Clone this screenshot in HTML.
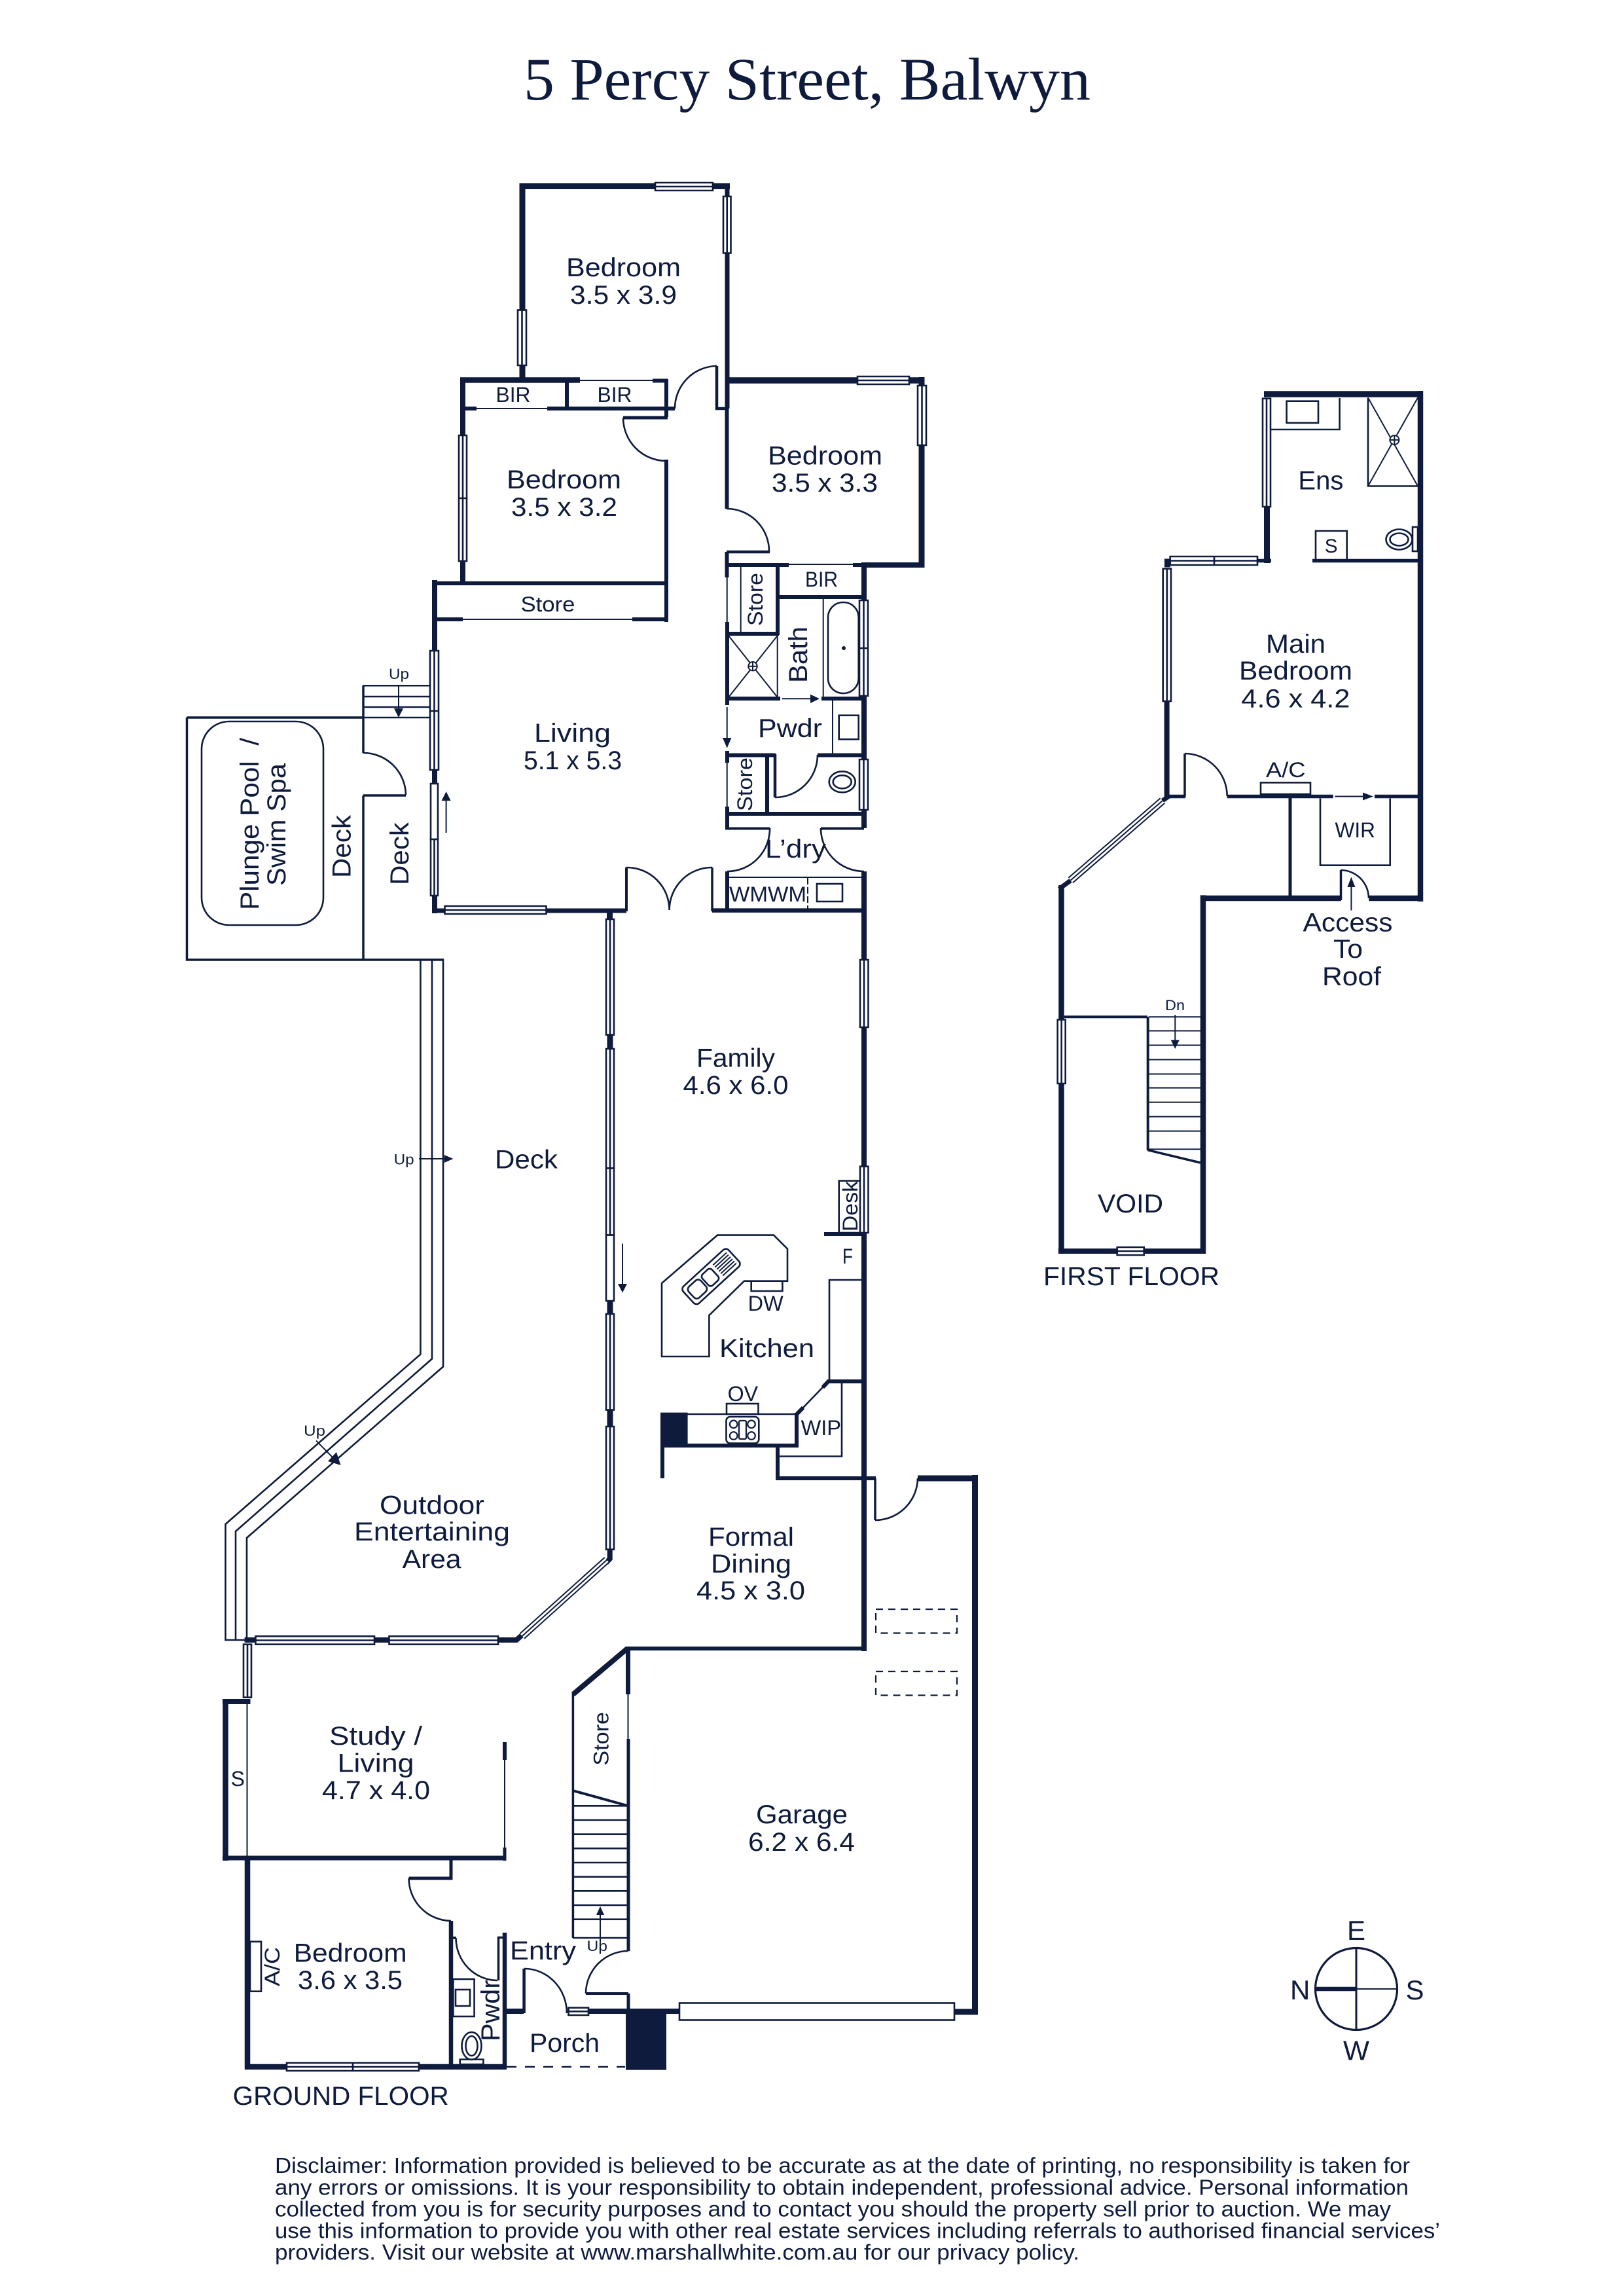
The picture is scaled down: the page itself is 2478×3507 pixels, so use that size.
<!DOCTYPE html>
<html><head><meta charset="utf-8"><style>
html,body{margin:0;padding:0;background:#fff}
svg{display:block}
text{font-family:"Liberation Sans",sans-serif;fill:#0f1b3d;stroke:none}
.s{fill:none;stroke:#0f1b3d;stroke-linecap:butt;stroke-linejoin:miter}
.a{stroke-width:2.6}.t{stroke-width:2}
.w{fill:#fff;stroke:#0f1b3d;stroke-width:2.6}
.d{fill:#fff;stroke:#0f1b3d;stroke-width:2.6}
.f{fill:#0f1b3d;stroke:none}
</style></head><body>
<svg xmlns="http://www.w3.org/2000/svg" width="2478" height="3507" viewBox="0 0 2478 3507">
<rect width="2478" height="3507" fill="#fff"/>
<text x="800" y="152" font-size="92" textLength="866" lengthAdjust="spacingAndGlyphs" style="font-family:'Liberation Serif',serif">5 Percy Street, Balwyn</text>

<!-- GROUND FLOOR WALLS -->
<g class="s">
<path d="M798 580V284.5H1115" stroke-width="9"/>
<path d="M1111 284V624" stroke-width="7"/>
<path d="M703 580.5H886" stroke-width="8.5"/>
<path d="M997 581.5H1020M1018 579V637" stroke-width="6"/>
<path d="M952 638H1020" stroke-width="5"/>
<path d="M707 578V891" stroke-width="8"/>
<path d="M711 624H728M836 624H1031M866 584V624" stroke-width="6"/>
<path class="t" d="M728 624H836M886 581H997"/>
<path d="M1095 559V624H1110" stroke-width="4.5"/>
<path class="a" d="M1031 624A65 65 0 0 1 1095 559M952 638A66 66 0 0 0 1018 704"/>
<path d="M1018 702V950M660 891H1020M667 946H707M966 946H1020" stroke-width="6"/>
<path class="t" d="M707 946H966"/>
<path d="M1108 581H1412" stroke-width="9.5"/>
<path d="M1408 576V867" stroke-width="9"/>
<path d="M1316 863H1412" stroke-width="8"/>
<path d="M1110.5 624V777" stroke-width="6"/>
<path class="a" d="M1110 777A65 65 0 0 1 1175 843"/>
<path d="M1110 843H1176" stroke-width="4.5"/>
<path d="M1110.5 843V882M1110 863H1205M1303 863H1320M1111 950V1077M1108 1067H1192M1255 1067H1317" stroke-width="6"/>
<path class="t" d="M1110.7 882V950M1205 862H1303"/>
<path d="M1320 860V1265M1320 1331V2522" stroke-width="8"/>
<path d="M1188 866V970M1113 968H1190M1190 912H1317" stroke-width="6"/>
<path class="t" d="M1131.7 866V967M1187.7 971V1065M1257.7 915V1065M1272 1070V1152"/>
<path class="t" d="M1113 971L1187.7 1065M1187.7 971L1113 1065"/>
<circle cx="1150" cy="1017.7" r="6.7" stroke-width="2" style="fill:#fff"/>
<path class="t" d="M1143 1017.7H1157M1150 1011V1024.4"/>
<rect class="a" x="1265" y="920" width="46.7" height="139" rx="23"/>
<rect class="a" x="1281.7" y="1092.7" width="30" height="36.5"/>
<path d="M1111 1147V1165M1111 1232V1265M1111 1331V1392" stroke-width="6"/>
<path class="t" d="M1110.7 1165V1232"/>
<path d="M1113 1153.5H1185M1249 1153.5H1317M1172 1156V1240M1108 1243H1323" stroke-width="6"/>
<path d="M1184 1152V1218" stroke-width="4.5"/>
<path class="a" d="M1184 1218A65 65 0 0 0 1249 1153"/>
<ellipse cx="1286.7" cy="1194.3" rx="20" ry="16" stroke-width="2.6"/>
<ellipse cx="1286.7" cy="1194.3" rx="14" ry="10" stroke-width="2.6"/>
<path d="M1108 1265.5H1176M1254 1265.5H1320" stroke-width="4"/>
<path class="a" d="M1176 1265A65 65 0 0 1 1111 1331M1254 1265A66 66 0 0 0 1320 1331"/>
<path class="t" d="M1114 1340H1317"/>
<path class="t" d="M1234 1341V1388" stroke-dasharray="10 4"/>
<rect class="a" x="1248" y="1350" width="39" height="27"/>
<path d="M664 886V1395" stroke-width="8"/>
<path d="M660 1391H957" stroke-width="7"/>
<path d="M957 1325V1392" stroke-width="4"/>
<path class="a" d="M957 1325A65 65 0 0 1 1022.6 1390M1088 1325A65 65 0 0 0 1022.6 1390"/>
<path d="M1088 1325V1392" stroke-width="3.5"/>
<path d="M1088 1390.6H1324" stroke-width="6.5"/>
<path d="M931.5 1390V1406" stroke-width="9"/>
<!-- family piers between windows -->
<path d="M932 1578V1604M932 1985V2009M932 2151V2181" stroke-width="9"/>

<!-- pool and deck -->
<path d="M285.5 1096H555V1150M285.5 1096V1466H678M555 1215V1466M555 1215H620M555 1047V1096" stroke-width="3.5"/>
<path class="a" d="M555 1150A65 65 0 0 1 620 1214"/>
<path d="M555 1047.3H658M555 1064H658M555 1080H658M555 1096H658" stroke-width="2.5"/>
<rect x="308" y="1102" width="186" height="311" rx="42" stroke-width="2.6"/>
<path d="M642.4 1465V2068.6L344.5 2328V2505H377M660 1465V2075.5L360 2339V2505M677 1465V2087.5L377 2349V2505" stroke-width="2.6"/>

<!-- kitchen -->
<path class="a" d="M1011 1960L1096 1886.6H1182L1203 1907.6V1956.7H1137L1083.4 2009V2072H1011Z"/>
<path class="a" d="M1147.7 1956.7V1972H1195.4V1956.7"/>
<g transform="translate(1086.5 1949.8) rotate(-42.5)">
<rect class="a" x="-47" y="-17.5" width="94" height="35" rx="6"/>
<rect class="a" x="-41" y="-11.5" width="25" height="23" rx="6"/>
<rect class="a" x="-12" y="-11.5" width="20" height="23" rx="5"/>
<path class="t" d="M14 -11H42M14 -6.6H42M14 -2.2H42M14 2.2H42M14 6.6H42M14 11H42"/>
</g>
<rect class="a" x="1281.7" y="1803.6" width="34.3" height="79.4"/>
<path d="M1259 1885H1320" stroke-width="6"/>
<path class="a" d="M1316 1955H1267V2108.5"/>
<path d="M1267 2110H1316" stroke-width="6"/>
<path class="a" d="M1267 2108.5L1217.4 2160"/>
<path d="M1267 2108.5L1257 2119M1227 2150L1217.4 2160" stroke-width="6"/>
<path d="M1217 2158V2211" stroke-width="6"/>
<path class="a" d="M1050 2160H1214"/>
<path d="M1050 2208H1220" stroke-width="6"/>
<path d="M1012 2211V2258M1188 2208V2261M1185 2258H1338" stroke-width="6"/>
<path class="a" d="M1286 2113V2224.5H1190.5"/>
<rect class="a" x="1110" y="2144" width="48.5" height="16"/>
<rect class="a" x="1109.5" y="2164" width="49.8" height="40.5" rx="6"/>
<circle cx="1120.7" cy="2175.4" r="5.8" stroke-width="2.2"/><circle cx="1148" cy="2175.4" r="5.8" stroke-width="2.2"/>
<circle cx="1120.7" cy="2193" r="5.8" stroke-width="2.2"/><circle cx="1148" cy="2193" r="5.8" stroke-width="2.2"/>
<rect x="1129" y="2170" width="11" height="28" rx="2" stroke-width="2.2"/>

<!-- garage -->
<path d="M1337 2258V2322" stroke-width="3.5"/>
<path class="a" d="M1337 2322A65 65 0 0 0 1402 2258"/>
<path d="M1402 2258H1494" stroke-width="9"/>
<path d="M1489.5 2253V3077" stroke-width="9"/>
<path d="M1458 3073H1494" stroke-width="9"/>
<rect x="1338" y="2458" width="124" height="36.5" stroke-width="2.2" stroke-dasharray="11 8"/>
<rect x="1338" y="2553" width="124" height="36.5" stroke-width="2.2" stroke-dasharray="11 8"/>
<path d="M956 2518H1323" stroke-width="6"/>
<path d="M875.5 2588L958.4 2518" stroke-width="8"/>
<path d="M959.5 2518V2588" stroke-width="7"/>
<path class="t" d="M959.5 2588V2656"/>
<path d="M960 2656V2980" stroke-width="5"/>
<path d="M875.4 2586V2960" stroke-width="3.5"/>
<path d="M875 2735L958.4 2758" stroke-width="4"/>
<path d="M875 2758.3H960M875 2780H960M875 2801.7H960M875 2823.3H960M875 2845H960M875 2866.7H960M875 2888.3H960M875 2910H960M875 2931.7H960M875 2960H960" stroke-width="2.6"/>
<path class="a" d="M960 2980A65 65 0 0 0 895 3045"/>
<path d="M895 3045H960" stroke-width="4"/>
<path d="M960 3045V3072" stroke-width="5"/>

<!-- study / bottom bedroom -->
<path d="M373.6 2505H390M572 2505H594.5M761 2505H789L797 2498M931.7 2366V2381L926 2387" stroke-width="8"/>
<path d="M340 2599H382.5" stroke-width="8"/>
<path d="M344.5 2595V2842" stroke-width="8.5"/>
<path class="t" d="M377.5 2603V2838"/>
<path d="M340 2838H773" stroke-width="7"/>
<path d="M771 2661V2688" stroke-width="6"/>
<path class="t" d="M771 2688V2822"/>
<path d="M771 2822V2842" stroke-width="5"/>
<path d="M378 2835V3161" stroke-width="8.5"/>
<path d="M374 3157H774" stroke-width="8.5"/>
<path d="M689 2838V2869H624.6" stroke-width="5"/>
<path class="a" d="M624.6 2869A65 65 0 0 0 689 2934"/>
<path d="M689 2934V3157M771 2952V3157" stroke-width="6.5"/>
<path d="M761.5 3025V2959.5H771" stroke-width="3.5"/>
<path d="M692 2960H697" stroke-width="4"/>
<path class="a" d="M696.5 2960A64 65 0 0 0 760 3025"/>
<rect class="a" x="692.4" y="3023" width="32.2" height="57"/>
<rect class="a" x="696" y="3039" width="22" height="25"/>
<ellipse cx="720.5" cy="3125" rx="15" ry="21" stroke-width="2.6"/>
<ellipse cx="720.5" cy="3125" rx="9" ry="15" stroke-width="2.6"/>
<rect class="a" x="702.7" y="3145.7" width="35.7" height="7.5"/>
<rect class="a" x="382" y="2965.7" width="17" height="76"/>
<path d="M769 3072H800M899 3072H958M1018 3072H1038" stroke-width="8"/>
<path d="M800.6 3007V3075" stroke-width="4.5"/>
<path class="a" d="M800.6 3007A65 68 0 0 1 866 3075"/>
<path d="M774 3157H955" stroke-width="2.6" stroke-dasharray="15 13"/>
</g>
<rect class="f" x="956" y="3068" width="62" height="93.7"/>
<rect class="f" x="1009" y="2157.6" width="41.6" height="53.4"/>
<circle class="f" cx="1289" cy="990" r="3"/>
<rect class="d" x="1038" y="3059.5" width="420" height="26"/>

<!-- WINDOWS -->
<g>
<path class="w" d="M1001 279h88v12h-88zM1001 285h88"/>
<path class="w" d="M1105 300h11.500v86.500h-11.500zM1110.700 300v86.500"/>
<path class="w" d="M791 473.600h13v84.400h-13zM797.500 473.600v84.400"/>
<path class="w" d="M701 665h12v192h-12zM707 665v192M701 761h12"/>
<path class="w" d="M1310 575h79v12h-79zM1310 581h79"/>
<path class="w" d="M1402 589h13v91h-13zM1408.500 589v91"/>
<path class="w" d="M1313 917h13v146h-13zM1319.500 917v146M1313 990h13"/>
<path class="w" d="M1313 1160h13v77h-13zM1319.500 1160v77"/>
<path class="w" d="M657 994h13v182h-13zM663.500 994v182M657 1086h13"/>
<path class="w" d="M658 1197h11v85h-11z"/>
<path class="w" d="M658 1282h11v86h-11zM663.500 1282v86"/>
<path class="w" d="M679.500 1384h155v12h-155zM679.500 1390h155"/>
<path class="w" d="M1314 1466h12.500v103h-12.500zM1320 1466v103"/>
<path class="w" d="M1314 1781.700h12.500v101.300h-12.500zM1320 1781.700v101.300"/>
<path class="w" d="M926 1404h12v176.600h-12zM932 1404v176.600"/>
<path class="w" d="M926 1602h12v182.400h-12zM932 1602v182.400"/>
<path class="w" d="M926 1784.400h12v102.200h-12zM932 1784.400v102.200"/>
<path class="w" d="M926 1886.600h12v100.400h-12z"/>
<path class="w" d="M926 2007h12v146.600h-12zM932 2007v146.600"/>
<path class="w" d="M926 2179h12v187.700h-12zM932 2179v187.700"/>
<path class="w" d="M390.500 2499.300h181.500v12.400h-181.500zM390.500 2505.500h181.500"/>
<path class="w" d="M594.500 2499.300h166.500v12.400h-166.500zM594.500 2505.500h166.500"/>
<path class="w" d="M372 2511.700h12v81h-12zM378 2511.700v81"/>
<path class="w" d="M438 3151h202v12h-202zM438 3157h202M539 3151v12"/>
<path class="w" d="M868.500 3066.700h30.500v11.300h-30.500zM868.500 3072.300h30.500"/>
</g>
<g fill="none" stroke-linecap="butt">
<path d="M797.700 2499L927 2382.700" stroke="#0f1b3d" stroke-width="12"/>
<path d="M797.700 2499L927 2382.700" stroke="#fff" stroke-width="8"/>
<path d="M797.700 2499L927 2382.700" stroke="#0f1b3d" stroke-width="2"/>
</g>

<!-- ARROWS -->
<g>
<path class="s t" d="M1195 1067.300H1240M1110.700 1080V1130M609 1046V1084M681.600 1272V1218M640 1770H682M483 2200.600L512 2230M917 2968V2922M2064.400 1390.500V1352M1795.300 1550V1592M2039.500 1216.500H2085M951 1899.500V1963"/>
<path class="f" d="M1252 1067.300L1238 1060.600V1074zM1110.700 1142.700L1104 1127H1117.400zM609 1096L602 1082H616zM681.600 1209L674.600 1223H688.600zM692.400 1770L678.700 1764V1776zM520.500 2238L501 2232L514 2218zM917 2911.700L911 2925H923zM2064.400 1339.500L2058.400 1355H2070.400zM1795.300 1602L1788.800 1588.600H1801.800zM2098 1216.500L2082 1210.500V1222.500zM951 1974.500L944 1961H958z"/>
</g>

<!-- FIRST FLOOR -->
<g class="s">
<path d="M1931 602H2174" stroke-width="9.500"/>
<path d="M2170 597V1377" stroke-width="8.500"/>
<path d="M1935.500 774V860" stroke-width="9"/>
<path d="M2005 856.500H2166M1921 856.500H1942" stroke-width="5.500"/>
<path d="M1779 860H1788" stroke-width="13"/>
<path d="M1782.600 1071V1217" stroke-width="8"/>
<path class="a" d="M2046.600 608V656H1941"/>
<rect class="a" x="1965.600" y="612.700" width="48.400" height="33.300"/>
<path class="a" d="M2090 607.500V742.500H2166"/>
<path class="t" d="M2090 607.500L2166 742.500M2166 607.500L2090 742.500" />
<circle cx="2130.400" cy="672" r="7" stroke-width="2" style="fill:#fff"/>
<path class="t" d="M2123.400 672H2137.400M2130.400 665V679"/>
<path class="a" d="M2010 855V811H2057.700V855"/>
<ellipse cx="2137.500" cy="824" rx="20" ry="15.500" stroke-width="2.600"/>
<ellipse cx="2137.500" cy="824" rx="14" ry="9.500" stroke-width="2.600"/>
<rect class="a" x="2158" y="805" width="8" height="37"/>
<path d="M1786 1216.500H1811M1874.700 1216.500H2036.700M2100 1216.500H2166" stroke-width="5.500"/>
<path d="M1810 1151V1217" stroke-width="3.500"/>
<path class="a" d="M1810 1151A65 65 0 0 1 1874.700 1216"/>
<rect class="a" x="1926" y="1195.400" width="76" height="17.600"/>
<path d="M1971 1219V1372" stroke-width="5"/>
<path class="a" d="M2017 1219.500V1321.700H2123.700V1219.500"/>
<path d="M1834 1372H2048.600M2091.300 1372H2174" stroke-width="8.500"/>
<path d="M2048.500 1329V1375" stroke-width="3.500"/>
<path class="a" d="M2048.500 1329A43 43 0 0 1 2091 1372"/>
<path d="M1621.500 1352V1915" stroke-width="8.500"/>
<path d="M1617 1911H1842" stroke-width="8"/>
<path d="M1838 1367.400V1915" stroke-width="8.500"/>
<path d="M1618 1357.800L1635.600 1345M1776 1223L1786 1216" stroke-width="7"/>
<path d="M1625.700 1553.300H1753" stroke-width="4"/>
<path d="M1753.700 1553V1757" stroke-width="4"/>
<path d="M1753.300 1756.600L1834 1776" stroke-width="3.500"/>
<path d="M1755 1553.300H1834M1755 1574.500H1834M1755 1596.500H1834M1755 1618.500H1834M1755 1640.500H1834M1755 1661.600H1834M1755 1683.600H1834M1755 1705.600H1834M1755 1727.600H1834M1755 1755.400H1834" stroke-width="2"/>
</g>
<g>
<path class="w" d="M1929 608.700h12v165.300h-12zM1935 608.700v165.300"/>
<path class="w" d="M1787.700 850h133.300v13h-133.300zM1787.700 856.500h133.300M1855 850v13"/>
<path class="w" d="M1776.700 868.700h12.300v202.300h-12.300zM1782.800 868.700v202.300"/>
<path class="w" d="M1615.700 1557.500h12v97.500h-12zM1621.700 1557.500v97.500"/>
<path class="w" d="M1706.700 1905h41v12h-41zM1706.700 1911h41"/>
<path d="M1635.600 1344.600L1776 1223" fill="none" stroke="#0f1b3d" stroke-width="12"/>
<path d="M1635.600 1344.600L1776 1223" fill="none" stroke="#fff" stroke-width="8"/>
<path d="M1635.600 1344.600L1776 1223" fill="none" stroke="#0f1b3d" stroke-width="2"/>
</g>

<!-- COMPASS -->
<g class="s">
<circle cx="2072" cy="3038" r="62.500" stroke-width="3.200"/>
<path d="M2072 2976V3100" stroke-width="3"/>
<path d="M2072 3038H2134" stroke-width="2"/>
<path d="M2010 3038H2072" stroke-width="6.500"/>
</g>
<g font-size="42">
<text x="2058" y="2963">E</text>
<text x="1971" y="3054">N</text>
<text x="2147.500" y="3054">S</text>
<text x="2052" y="3146.700" textLength="40" lengthAdjust="spacingAndGlyphs">W</text>
</g>

<!-- ROOM LABELS -->
<g font-size="40" lengthAdjust="spacingAndGlyphs">
<text x="865" y="422" textLength="175" lengthAdjust="spacingAndGlyphs">Bedroom</text>
<text x="871" y="464" textLength="163" lengthAdjust="spacingAndGlyphs">3.5 x 3.9</text>
<text x="774" y="746" textLength="175" lengthAdjust="spacingAndGlyphs">Bedroom</text>
<text x="781" y="788" textLength="162" lengthAdjust="spacingAndGlyphs">3.5 x 3.2</text>
<text x="1173" y="709.500" textLength="175" lengthAdjust="spacingAndGlyphs">Bedroom</text>
<text x="1179" y="751" textLength="162" lengthAdjust="spacingAndGlyphs">3.5 x 3.3</text>
<text x="816" y="1133" textLength="117" lengthAdjust="spacingAndGlyphs">Living</text>
<text x="800" y="1175" textLength="150" lengthAdjust="spacingAndGlyphs">5.1 x 5.3</text>
<text x="1064" y="1629.400" textLength="120" lengthAdjust="spacingAndGlyphs">Family</text>
<text x="1043.500" y="1671" textLength="161" lengthAdjust="spacingAndGlyphs">4.6 x 6.0</text>
<text x="756" y="1784.400" textLength="96" lengthAdjust="spacingAndGlyphs">Deck</text>
<text x="1099" y="2072.800" textLength="145" lengthAdjust="spacingAndGlyphs">Kitchen</text>
<text x="580" y="2312.600" textLength="160" lengthAdjust="spacingAndGlyphs">Outdoor</text>
<text x="541" y="2353" textLength="238" lengthAdjust="spacingAndGlyphs">Entertaining</text>
<text x="614.600" y="2395" textLength="90" lengthAdjust="spacingAndGlyphs">Area</text>
<text x="1082" y="2361" textLength="131" lengthAdjust="spacingAndGlyphs">Formal</text>
<text x="1086" y="2402" textLength="123" lengthAdjust="spacingAndGlyphs">Dining</text>
<text x="1064" y="2443" textLength="166" lengthAdjust="spacingAndGlyphs">4.5 x 3.0</text>
<text x="1155" y="2785" textLength="140" lengthAdjust="spacingAndGlyphs">Garage</text>
<text x="1143" y="2827" textLength="163" lengthAdjust="spacingAndGlyphs">6.2 x 6.4</text>
<text x="503" y="2665" textLength="142" lengthAdjust="spacingAndGlyphs">Study /</text>
<text x="515.500" y="2706.700" textLength="117" lengthAdjust="spacingAndGlyphs">Living</text>
<text x="492" y="2748" textLength="165" lengthAdjust="spacingAndGlyphs">4.7 x 4.0</text>
<text x="448.600" y="2996.700" textLength="173" lengthAdjust="spacingAndGlyphs">Bedroom</text>
<text x="455" y="3038" textLength="160" lengthAdjust="spacingAndGlyphs">3.6 x 3.5</text>
<text x="779" y="2993" textLength="101" lengthAdjust="spacingAndGlyphs">Entry</text>
<text x="809" y="3134" textLength="107" lengthAdjust="spacingAndGlyphs">Porch</text>
<text x="1158" y="1126" textLength="98" lengthAdjust="spacingAndGlyphs">Pwdr</text>
<text x="1169" y="1310" textLength="93" lengthAdjust="spacingAndGlyphs">L’dry</text>
<text x="355.700" y="3215" textLength="330" lengthAdjust="spacingAndGlyphs">GROUND FLOOR</text>
<text x="1983.400" y="747.600" textLength="69" lengthAdjust="spacingAndGlyphs">Ens</text>
<text x="1934" y="997" textLength="91" lengthAdjust="spacingAndGlyphs">Main</text>
<text x="1893" y="1038" textLength="173" lengthAdjust="spacingAndGlyphs">Bedroom</text>
<text x="1896.400" y="1080.600" textLength="166" lengthAdjust="spacingAndGlyphs">4.6 x 4.2</text>
<text x="1990.500" y="1422.600" textLength="137" lengthAdjust="spacingAndGlyphs">Access</text>
<text x="2037" y="1463" textLength="45" lengthAdjust="spacingAndGlyphs">To</text>
<text x="2020" y="1504.800" textLength="90" lengthAdjust="spacingAndGlyphs">Roof</text>
<text x="1677" y="1852" textLength="100" lengthAdjust="spacingAndGlyphs">VOID</text>
<text x="1594" y="1963" textLength="269" lengthAdjust="spacingAndGlyphs">FIRST FLOOR</text>
<text transform="translate(395 1390) rotate(-90)" textLength="263" lengthAdjust="spacingAndGlyphs">Plunge Pool&#160;&#160;/</text>
<text transform="translate(436 1353) rotate(-90)" textLength="187" lengthAdjust="spacingAndGlyphs">Swim Spa</text>
<text transform="translate(535.600 1341) rotate(-90)" textLength="96" lengthAdjust="spacingAndGlyphs">Deck</text>
<text transform="translate(624 1352) rotate(-90)" textLength="96" lengthAdjust="spacingAndGlyphs">Deck</text>
<text transform="translate(1233 1043) rotate(-90)" textLength="86" lengthAdjust="spacingAndGlyphs">Bath</text>
<text transform="translate(763 3118) rotate(-90)" textLength="94" lengthAdjust="spacingAndGlyphs">Pwdr</text>
</g>
<g font-size="32">
<text x="757.500" y="614" textLength="53" lengthAdjust="spacingAndGlyphs">BIR</text>
<text x="912.500" y="614" textLength="53" lengthAdjust="spacingAndGlyphs">BIR</text>
<text x="1230" y="896" textLength="50" lengthAdjust="spacingAndGlyphs">BIR</text>
<text x="795.500" y="934" textLength="83" lengthAdjust="spacingAndGlyphs">Store</text>
<text transform="translate(1165 956) rotate(-90)" textLength="81" lengthAdjust="spacingAndGlyphs">Store</text>
<text transform="translate(1149 1239) rotate(-90)" textLength="82" lengthAdjust="spacingAndGlyphs">Store</text>
<text transform="translate(929.400 2696.700) rotate(-90)" textLength="81.700" lengthAdjust="spacingAndGlyphs">Store</text>
<text transform="translate(1310 1881) rotate(-90)" textLength="77" lengthAdjust="spacingAndGlyphs">Desk</text>
<text transform="translate(427 3034) rotate(-90)" textLength="60" lengthAdjust="spacingAndGlyphs">A/C</text>
<text x="1114" y="1377" textLength="118" lengthAdjust="spacingAndGlyphs">WMWM</text>
<text x="1287" y="1930" textLength="16" lengthAdjust="spacingAndGlyphs">F</text>
<text x="1142.700" y="2002" textLength="54" lengthAdjust="spacingAndGlyphs">DW</text>
<text x="1111.600" y="2140" textLength="46.400" lengthAdjust="spacingAndGlyphs">OV</text>
<text x="1223.600" y="2192" textLength="61.400" lengthAdjust="spacingAndGlyphs">WIP</text>
<text x="352.600" y="2728">S</text>
<text x="1934" y="1187" textLength="60.500" lengthAdjust="spacingAndGlyphs">A/C</text>
<text x="2039.500" y="1279" textLength="61.500" lengthAdjust="spacingAndGlyphs">WIR</text>
<text x="2023.700" y="844" font-size="30" textLength="19.800" lengthAdjust="spacingAndGlyphs">S</text>
</g>
<g font-size="22">
<text x="594" y="1037" textLength="31" lengthAdjust="spacingAndGlyphs">Up</text>
<text x="601.600" y="1778.700" textLength="31" lengthAdjust="spacingAndGlyphs">Up</text>
<text x="464" y="2193" textLength="33" lengthAdjust="spacingAndGlyphs">Up</text>
<text x="896.500" y="2980" textLength="31.500" lengthAdjust="spacingAndGlyphs">Up</text>
<text x="1780" y="1543" textLength="30" lengthAdjust="spacingAndGlyphs">Dn</text>
</g>

<!-- DISCLAIMER -->
<g font-size="33">
<text x="420" y="3319" textLength="1734" lengthAdjust="spacingAndGlyphs">Disclaimer: Information provided is believed to be accurate as at the date of printing, no responsibility is taken for</text>
<text x="420" y="3352.500" textLength="1732" lengthAdjust="spacingAndGlyphs">any errors or omissions. It is your responsibility to obtain independent, professional advice. Personal information</text>
<text x="420" y="3385.500" textLength="1705" lengthAdjust="spacingAndGlyphs">collected from you is for security purposes and to contact you should the property sell prior to auction. We may</text>
<text x="420" y="3418.500" textLength="1780" lengthAdjust="spacingAndGlyphs">use this information to provide you with other real estate services including referrals to authorised financial services’</text>
<text x="420" y="3451.500" textLength="1229" lengthAdjust="spacingAndGlyphs">providers. Visit our website at www.marshallwhite.com.au for our privacy policy.</text>
</g>
</svg>
</body></html>
